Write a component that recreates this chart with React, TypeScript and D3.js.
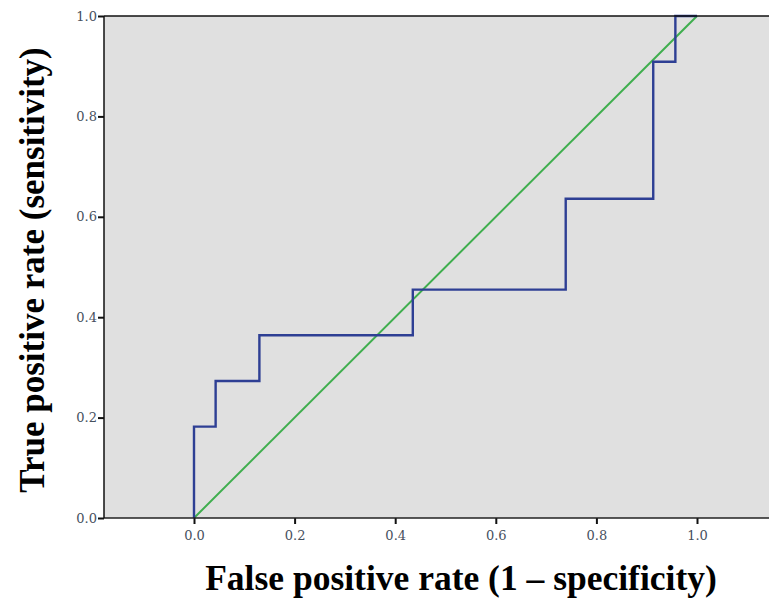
import React, { useEffect, useRef } from "react";
import * as d3 from "d3";

// ROC curve vertices (fpr, tpr)
const fpr = [0, 0, 0.043, 0.043, 0.13, 0.13, 0.435, 0.435, 0.739, 0.739, 0.913, 0.913, 0.957, 0.957, 1.0];
const tpr = [0, 0.182, 0.182, 0.273, 0.273, 0.364, 0.364, 0.455, 0.455, 0.636, 0.636, 0.909, 0.909, 1.0, 1.0];
const refLine = [0, 1];
const ticks = [0, 0.2, 0.4, 0.6, 0.8, 1.0];

const W = 769;
const H = 601;

function App() {
  const svgRef = useRef<SVGSVGElement>(null);

  useEffect(() => {
    const svg = d3.select(svgRef.current);
    svg.selectAll("*").remove();

    const left = 104, right = 769, top = 16, bottom = 518;
    // x domain extends past 0..1 like the original plot frame
    const x = d3.scaleLinear().domain([0, 1]).range([194, 697]);
    const y = d3.scaleLinear().domain([0, 1]).range([bottom, top]);

    svg.append("rect")
      .attr("x", left).attr("y", top)
      .attr("width", right - left).attr("height", bottom - top)
      .attr("fill", "#e0e0e0");

    // reference diagonal
    svg.append("line")
      .attr("x1", x(refLine[0])).attr("y1", y(refLine[0]))
      .attr("x2", x(refLine[1])).attr("y2", y(refLine[1]))
      .attr("stroke", "#3fae4e").attr("stroke-width", 2);

    const line = d3.line<number>()
      .x((d, i) => x(fpr[i]))
      .y(d => y(d));

    svg.append("path")
      .datum(tpr)
      .attr("d", line)
      .attr("fill", "none")
      .attr("stroke", "#2e3f94")
      .attr("stroke-width", 2.4);

    // frame: top and left borders
    svg.append("line")
      .attr("x1", left).attr("x2", right).attr("y1", top).attr("y2", top)
      .attr("stroke", "#111").attr("stroke-width", 1.5);

    const xAxis = d3.axisBottom(x).tickValues(ticks).tickFormat(d3.format(".1f")).tickSize(6).tickSizeOuter(0);
    const gx = svg.append("g").attr("transform", `translate(0,${bottom})`).call(xAxis);
    gx.select(".domain").remove();
    gx.append("line").attr("x1", left).attr("x2", right).attr("stroke", "#222").attr("stroke-width", 1.5);

    const yAxis = d3.axisLeft(y).tickValues(ticks).tickFormat(d3.format(".1f")).tickSize(6).tickSizeOuter(0);
    const gy = svg.append("g").attr("transform", `translate(${left},0)`).call(yAxis);
    gy.select(".domain").remove();
    gy.append("line").attr("y1", top).attr("y2", bottom).attr("stroke", "#111").attr("stroke-width", 1.5);

    [gx, gy].forEach(g => {
      g.selectAll(".tick line").attr("stroke", "#111").attr("stroke-width", 2);
      g.selectAll(".tick text")
        .attr("font-family", "DejaVu Serif")
        .attr("font-size", 13)
        .attr("fill", "#46505e");
    });
    gx.selectAll(".tick text").attr("dy", "1.0em");
    gy.selectAll(".tick text").attr("x", -7);

    svg.append("text")
      .attr("x", 461).attr("y", 590)
      .attr("text-anchor", "middle")
      .attr("font-family", "Liberation Serif")
      .attr("font-weight", "bold")
      .attr("font-size", 35.5)
      .text("False positive rate (1 \u2013 specificity)");

    svg.append("text")
      .attr("transform", "translate(44,270) rotate(-90)")
      .attr("text-anchor", "middle")
      .attr("font-family", "Liberation Serif")
      .attr("font-weight", "bold")
      .attr("font-size", 35)
      .text("True positive rate (sensitivity)");
  }, []);

  return (
    <svg ref={svgRef} width={W} height={H}
      style={{ position: "absolute", left: 0, top: 0, background: "#fff" }} />
  );
}

export default App;
